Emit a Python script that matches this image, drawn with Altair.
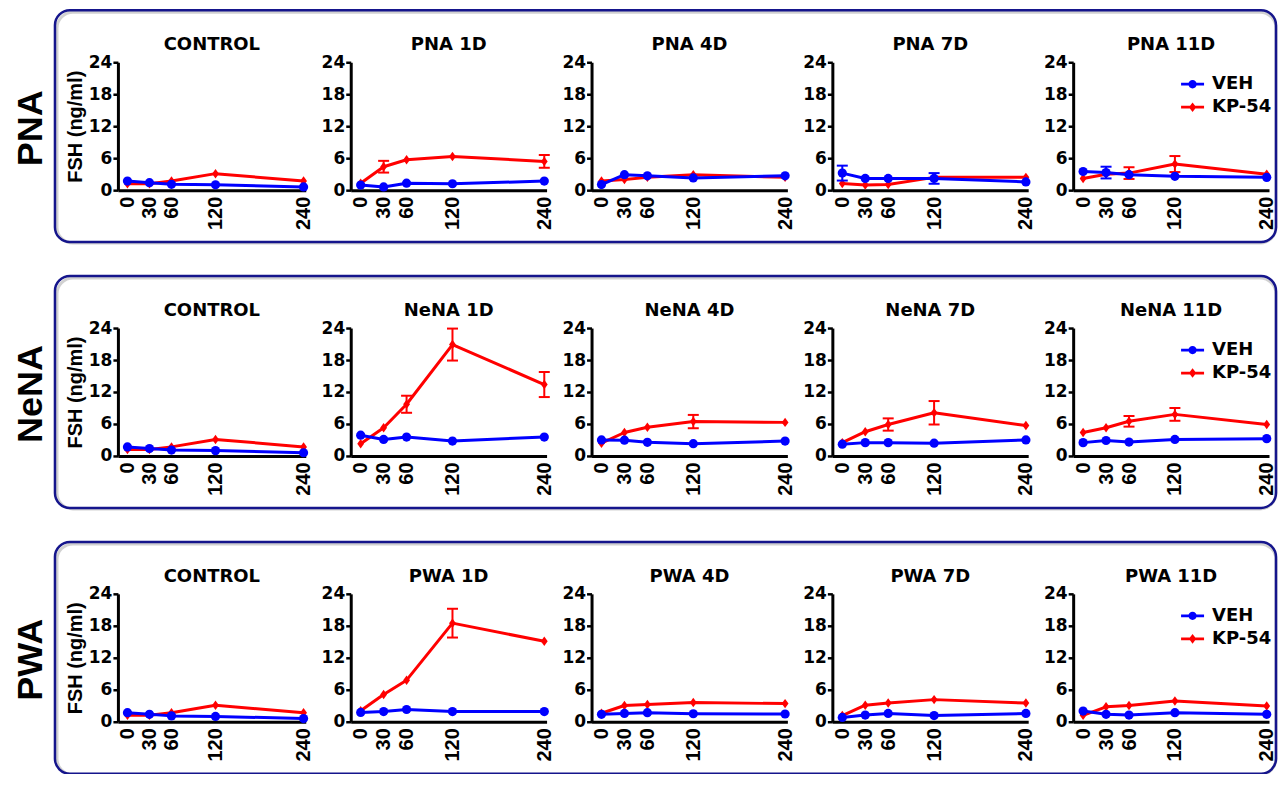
import altair as alt
import pandas as pd

# ---------------- data ----------------
TIMES = [0, 30, 60, 120, 240]
SERIES = ["VEH", "KP-54"]
ROW_NAMES = ["PNA", "NeNA", "PWA"]
PANEL_DAYS = ["CONTROL", "1D", "4D", "7D", "11D"]
Y_TICKS = [0, 6, 12, 18, 24]

NO_ERR = [0, 0, 0, 0, 0]

CONTROL_VEH = [1.7, 1.4, 1.1, 1.0, 0.6]
CONTROL_KP = [1.2, 1.2, 1.7, 3.1, 1.7]

# each list: CONTROL, 1D, 4D, 7D, 11D  (values at 0, 30, 60, 120, 240 min)
PNA_VEH = [CONTROL_VEH, [0.95, 0.6, 1.3, 1.2, 1.7], [1.05, 2.9, 2.7, 2.3, 2.7],
           [3.2, 2.2, 2.2, 2.2, 1.55], [3.5, 3.3, 2.9, 2.6, 2.4]]
PNA_VEH_ERR = [NO_ERR, NO_ERR, NO_ERR, [1.4, 0, 0, 1.0, 0], [0, 1.1, 0, 0, 0]]
PNA_KP = [CONTROL_KP, [1.3, 4.4, 5.7, 6.3, 5.4], [1.7, 2.0, 2.4, 2.9, 2.4],
          [1.25, 0.95, 1.05, 2.4, 2.4], [2.2, 3.0, 3.2, 4.9, 3.0]]
PNA_KP_ERR = [NO_ERR, [0, 1.1, 0, 0, 1.2], NO_ERR, NO_ERR, [0, 0, 1.1, 1.5, 0]]

NENA_VEH = [CONTROL_VEH, [3.9, 3.1, 3.55, 2.8, 3.55], [3.0, 2.95, 2.55, 2.3, 2.8],
            [2.2, 2.5, 2.5, 2.4, 3.0], [2.5, 2.9, 2.6, 3.1, 3.25]]
NENA_VEH_ERR = [NO_ERR, NO_ERR, NO_ERR, NO_ERR, NO_ERR]
NENA_KP = [CONTROL_KP, [2.3, 5.3, 9.7, 20.9, 13.4], [2.4, 4.4, 5.4, 6.45, 6.3],
           [2.5, 4.55, 5.9, 8.1, 5.7], [4.4, 5.3, 6.5, 7.8, 5.9]]
NENA_KP_ERR = [NO_ERR, [0, 0, 1.6, 3.0, 2.35], [0, 0, 0, 1.25, 0],
               [0, 0, 1.15, 2.2, 0], [0, 0, 1.0, 1.2, 0]]

PWA_VEH = [CONTROL_VEH, [1.75, 1.9, 2.3, 1.9, 1.9], [1.4, 1.55, 1.7, 1.5, 1.45],
           [0.8, 1.25, 1.55, 1.15, 1.55], [2.0, 1.4, 1.25, 1.7, 1.4]]
PWA_VEH_ERR = [NO_ERR, NO_ERR, NO_ERR, NO_ERR, NO_ERR]
PWA_KP = [CONTROL_KP, [2.05, 5.1, 7.8, 18.5, 15.1], [1.6, 3.05, 3.25, 3.6, 3.4],
          [1.15, 3.1, 3.5, 4.15, 3.5], [1.2, 2.8, 3.05, 3.9, 2.95]]
PWA_KP_ERR = [NO_ERR, [0, 0, 0, 2.7, 0], NO_ERR, NO_ERR, NO_ERR]

ROW_DATA = {
    "PNA": (PNA_VEH, PNA_VEH_ERR, PNA_KP, PNA_KP_ERR),
    "NeNA": (NENA_VEH, NENA_VEH_ERR, NENA_KP, NENA_KP_ERR),
    "PWA": (PWA_VEH, PWA_VEH_ERR, PWA_KP, PWA_KP_ERR),
}

records = []
for rname in ROW_NAMES:
    veh, veh_err, kp, kp_err = ROW_DATA[rname]
    for p, day in enumerate(PANEL_DAYS):
        for series, vals, errs in (("VEH", veh[p], veh_err[p]), ("KP-54", kp[p], kp_err[p])):
            for t, v, e in zip(TIMES, vals, errs):
                records.append({"row": rname, "panel": day, "series": series, "t": t,
                                "mean": v, "lo": v - e, "hi": v + e, "err": e})
df = pd.DataFrame(records)

# ---------------- style ----------------
BLUE = "#0000ff"
RED = "#ff0000"
NAVY = "#15158c"
HEAD_FONT = "DejaVu Sans"
ROT_FONT = "Liberation Sans"
PANEL_H = 128
WIDTHS = [188, 196, 196, 196, 196]
LABEL_W = 56

KP_MARK = "M0,-1L0.72,0L0,1L-0.72,0Z"
PATH_VEH = ("M-1,-0.12L1,-0.12L1,0.12L-1,0.12Z "
            "M-0.36,0A0.36,0.36,0,1,1,0.36,0A0.36,0.36,0,1,1,-0.36,0Z")
PATH_KP = "M-1,-0.12L1,-0.12L1,0.12L-1,0.12Z M0,-0.42L0.32,0L0,0.42L-0.32,0Z"

XS = alt.Scale(domain=[-13, 243], nice=False, zero=False)
YS = alt.Scale(domain=[0, 24], nice=False)


def make_label(rname):
    d = alt.Data(values=[{"row": rname}])
    shadow = alt.Chart(d).mark_rect(cornerRadius=16, fillOpacity=0, stroke="#7a7a7a",
                                    strokeOpacity=0.35, strokeWidth=3).encode(
        x=alt.value(40), x2=alt.value(1260), y=alt.value(-50), y2=alt.value(181))
    box = alt.Chart(d).mark_rect(cornerRadius=15, fillOpacity=0, stroke=NAVY,
                                 strokeWidth=2.5).encode(
        x=alt.value(38), x2=alt.value(1260), y=alt.value(-52), y2=alt.value(180))
    text = alt.Chart(d).mark_text(angle=270, font=ROT_FONT, fontWeight="bold",
                                  fontSize=36, color="black").encode(
        x=alt.value(14), y=alt.value(66), text="row:N")
    return alt.layer(shadow, box, text).properties(width=LABEL_W, height=PANEL_H)


def make_panel(rname, p):
    day = PANEL_DAYS[p]
    sub = df[(df["row"] == rname) & (df["panel"] == day)]
    base = alt.Chart(sub)
    x_axis = alt.Axis(values=TIMES, labelAngle=270, labelFont=ROT_FONT, labelFontSize=20,
                      labelFontWeight="bold", ticks=False, labelPadding=6, title=None,
                      labelOverlap=False, labelFlush=False, grid=False)
    if p == 0:
        y_axis = alt.Axis(values=Y_TICKS, labelFont=HEAD_FONT, labelFontSize=17,
                          labelFontWeight="bold", tickSize=5, labelPadding=1, grid=False,
                          title="FSH (ng/ml)", titleFont=ROT_FONT, titleFontSize=20,
                          titleFontWeight="bold", titlePadding=3)
    else:
        y_axis = alt.Axis(values=Y_TICKS, labelFont=HEAD_FONT, labelFontSize=17,
                          labelFontWeight="bold", tickSize=5, labelPadding=1, grid=False,
                          title=None)
    xe = alt.X("t:Q", scale=XS, axis=x_axis)

    def ye(field):
        return alt.Y(f"{field}:Q", scale=YS, axis=y_axis)

    layers = []
    for series, color, shape, size in (("KP-54", RED, KP_MARK, 90), ("VEH", BLUE, "circle", 85)):
        s = base.transform_filter(alt.datum.series == series)
        e = s.transform_filter(alt.datum.err > 0)
        layers.append(e.mark_rule(color=color, strokeWidth=2).encode(
            x=xe, y=ye("lo"), y2="hi:Q"))
        layers.append(e.mark_tick(orient="horizontal", size=11, thickness=2, color=color,
                                  opacity=1).encode(x=xe, y=ye("lo")))
        layers.append(e.mark_tick(orient="horizontal", size=11, thickness=2, color=color,
                                  opacity=1).encode(x=xe, y=ye("hi")))
        layers.append(s.mark_line(color=color, strokeWidth=3, strokeJoin="round").encode(
            x=xe, y=ye("mean")))
        layers.append(s.mark_point(shape=shape, filled=True, size=size, color=color,
                                   opacity=1).encode(x=xe, y=ye("mean")))

    if day == "11D":
        leg = alt.Legend(title=None, orient="none", legendX=108, legendY=10.5,
                         direction="vertical", symbolSize=529, symbolStrokeWidth=0,
                         labelFont=HEAD_FONT, labelFontSize=18, labelFontWeight="bold",
                         labelColor="black", labelOffset=8, rowPadding=2, padding=0)
        layers.append(base.transform_filter("false").mark_point(filled=True, opacity=1).encode(
            x=xe, y=ye("mean"),
            color=alt.Color("series:N", scale=alt.Scale(domain=SERIES, range=[BLUE, RED]),
                            legend=leg),
            shape=alt.Shape("series:N", scale=alt.Scale(domain=SERIES, range=[PATH_VEH, PATH_KP]),
                            legend=leg)))

    title = "CONTROL" if day == "CONTROL" else f"{rname} {day}"
    return alt.layer(*layers).properties(
        width=WIDTHS[p], height=PANEL_H,
        title=alt.TitleParams(text=title, font=HEAD_FONT, fontSize=18, fontWeight="bold",
                              color="black", frame="group", anchor="middle", offset=0,
                              dy=15, baseline="alphabetic"))


cells = []
for rname in ROW_NAMES:
    cells.append(make_label(rname))
    for p in range(len(PANEL_DAYS)):
        cells.append(make_panel(rname, p))

chart = alt.concat(*cells, columns=6, spacing={"row": 138, "column": 45},
                   bounds="flush").resolve_scale(
    color="independent", shape="independent"
).properties(
    padding={"left": 4, "top": 0, "right": 0, "bottom": -3}, background="white"
).configure_view(stroke="transparent").configure_axis(
    domainColor="black", domainWidth=3, tickColor="black", tickWidth=2.5,
    labelColor="black", titleColor="black", grid=False,
    titleFont=ROT_FONT, titleFontSize=20, titleFontWeight="bold"
)

chart.save("out.html", embed_options={"renderer": "svg", "actions": False})
